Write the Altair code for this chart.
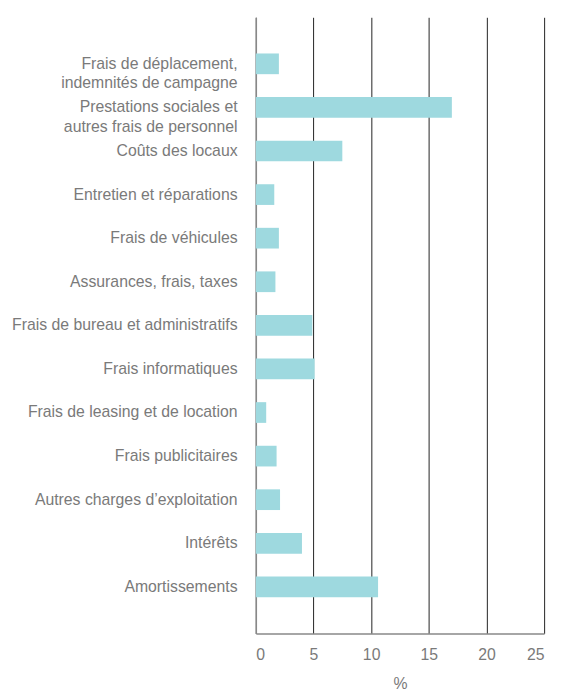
import altair as alt
import pandas as pd

categories = [
    "Frais de déplacement,\nindemnités de campagne",
    "Prestations sociales et\nautres frais de personnel",
    "Coûts des locaux",
    "Entretien et réparations",
    "Frais de véhicules",
    "Assurances, frais, taxes",
    "Frais de bureau et administratifs",
    "Frais informatiques",
    "Frais de leasing et de location",
    "Frais publicitaires",
    "Autres charges d\u2019exploitation",
    "Intérêts",
    "Amortissements",
]
values = [2.0, 17.0, 7.5, 1.6, 2.0, 1.7, 4.9, 5.1, 0.9, 1.8, 2.1, 4.0, 10.6]
x_ticks = [0, 5, 10, 15, 20, 25]

df = pd.DataFrame({"cat": categories, "val": values})

FONT = "Liberation Sans"
GRAY = "#7a7a7a"

chart = (
    alt.Chart(df)
    .mark_bar(color="#9ed9df")
    .encode(
        x=alt.X(
            "val:Q",
            scale=alt.Scale(domain=[0, 25], nice=False),
            axis=alt.Axis(
                values=x_ticks,
                title="%",
                titleFont=FONT,
                titleFontSize=16,
                titleFontWeight="normal",
                titleColor=GRAY,
                titlePadding=14,
                labelFont=FONT,
                labelFontSize=16,
                labelColor=GRAY,
                labelPadding=13,
                ticks=False,
                grid=True,
                gridColor="#222222",
                gridWidth=1,
                domainColor="#888888",
                domainWidth=1.5,
            ),
        ),
        y=alt.Y(
            "cat:N",
            sort=None,
            scale=alt.Scale(paddingInner=0.525, paddingOuter=0.83),
            axis=alt.Axis(
                title=None,
                labelExpr="split(datum.label, '\\n')",
                labelFont=FONT,
                labelFontSize=16,
                labelColor=GRAY,
                labelPadding=19,
                labelLineHeight=20,
                labelLimit=400,
                ticks=False,
                domainColor="#888888",
                domainWidth=1.5,
            ),
        ),
    )
    .properties(
        width=292,
        height=624,
        autosize=alt.AutoSizeParams(type="none"),
        padding={"left": 251, "top": 5, "right": 10, "bottom": 60},
    )
    .configure_view(stroke=None)
    .configure_axis(labelFontWeight="normal")
)

chart.save("out.html", embed_options={"renderer": "svg", "actions": False})
